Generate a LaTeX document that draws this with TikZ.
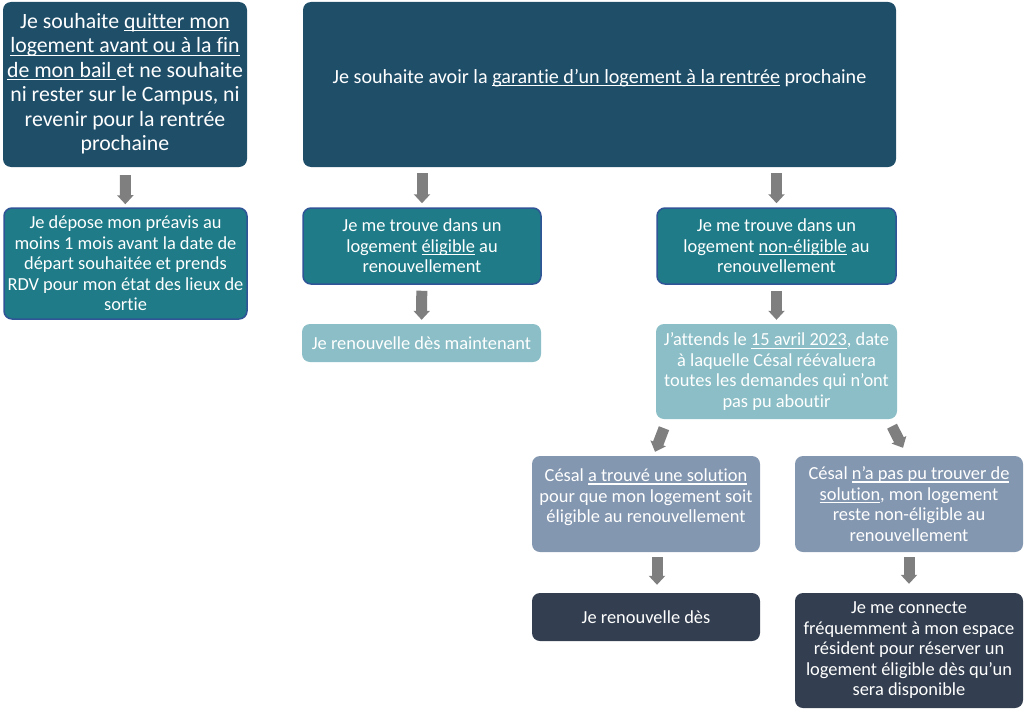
\documentclass[tikz,border=0pt]{standalone}
\usepackage{fontspec}
\setmainfont{Carlito}[Ligatures={NoCommon}]
\newcommand\undl[1]{\setbox0\hbox{#1}\rlap{\rule[-3pt]{\wd0}{1.2pt}}\box0\relax}
\usetikzlibrary{arrows.meta,calc}
\definecolor{darkblue}{HTML}{1F4E69}
\definecolor{tealc}{HTML}{1E7B87}
\definecolor{tealborder}{HTML}{2F5597}
\definecolor{lightteal}{HTML}{8BBEC6}
\definecolor{slate}{HTML}{8497B0}
\definecolor{navy}{HTML}{333F50}
\definecolor{arrowgray}{HTML}{7F7F7F}
\tikzset{
  box/.style={rounded corners=8pt, text=white, align=center, inner sep=2pt,
    font=\fontsize{18.4}{20.5}\selectfont},
  topbox/.style={box, fill=darkblue},
  midbox/.style={box, fill=tealc, draw=tealborder, line width=1.5pt},
  lightbox/.style={box, fill=lightteal},
  slatebox/.style={box, fill=slate},
  navybox/.style={box, fill=navy},
  flow/.style={draw=arrowgray, line width=11pt, -{Triangle[width=16pt,length=9pt]}},
}
\begin{document}
\begin{tikzpicture}[x=1pt,y=-1pt]
\useasboundingbox (0,0) rectangle (1024,709);
\node[topbox, minimum width=244pt, minimum height=165pt, font=\fontsize{21.8}{24.5}\selectfont] (A) at (125,84.5)
 {Je souhaite \undl{quitter mon}\\\undl{logement avant ou à la fin}\\\undl{de mon bail\ }et ne souhaite\\ni rester sur le Campus, ni\\revenir pour la rentrée\\prochaine\\[-19.5pt]\mbox{}};
\node[topbox, minimum width=593pt, minimum height=165pt, font=\fontsize{20.1}{24}\selectfont] (B) at (599.5,84.5)
 {Je souhaite avoir la \undl{garantie d’un logement à la rentrée} prochaine\\[-7pt]\mbox{}};
\node[midbox, minimum width=243pt, minimum height=111pt] (C) at (125.5,263.5)
 {Je dépose mon préavis au\\moins 1 mois avant la date de\\départ souhaitée et prends\\RDV pour mon état des lieux de\\sortie};
\node[midbox, minimum width=238pt, minimum height=76pt] (D) at (422,246)
 {Je me trouve dans un\\logement \undl{éligible} au\\renouvellement};
\node[midbox, minimum width=239pt, minimum height=76pt] (E) at (776.5,246)
 {Je me trouve dans un\\logement \undl{non-éligible} au\\renouvellement};
\node[lightbox, minimum width=239pt, minimum height=38pt] (F) at (421.5,343)
 {Je renouvelle dès maintenant};
\node[lightbox, minimum width=241pt, minimum height=95pt] (G) at (776.5,371.5)
 {J’attends le \undl{15 avril 2023}, date\\à laquelle Césal réévaluera\\toutes les demandes qui n’ont\\pas pu aboutir};
\node[slatebox, minimum width=228pt, minimum height=96pt] (H) at (646,504)
 {Césal \undl{a trouvé une solution}\\pour que mon logement soit\\éligible au renouvellement\\[-4pt]\mbox{}};
\node[slatebox, minimum width=228pt, minimum height=96pt] (I) at (909,504)
 {Césal \undl{n’a pas pu trouver de}\\\undl{solution}, mon logement\\reste non-éligible au\\renouvellement};
\node[navybox, minimum width=228pt, minimum height=48pt] (J) at (646,617)
 {Je renouvelle dès};
\node[navybox, minimum width=228pt, minimum height=115pt] (K) at (909,650.5)
 {Je me connecte\\fréquemment à mon espace\\résident pour réserver un\\logement éligible dès qu’un\\sera disponible};
% arrows
\draw[flow, shorten <=8pt, shorten >=3pt] (A) -- (C);
\draw[flow, shorten <=6pt, shorten >=4pt] (D.north |- B.south) -- (D.north);
\draw[flow, shorten <=6pt, shorten >=4pt] (E.north |- B.south) -- (E.north);
\draw[flow, shorten <=6pt, shorten >=4pt] (D) -- (F);
\draw[flow, shorten <=6pt, shorten >=4pt] (E) -- (G);
\draw[flow] ($(G.south)+(-112.5,9)$) -- ($(H.north)+(9,-4)$);
\draw[flow] ($(G.south)+(115.5,7)$) -- ($(I.north)+(-6,-8)$);
\draw[flow, shorten <=5pt, shorten >=8pt] ($(H.south)+(11,0)$) -- ($(J.north)+(11,0)$);
\draw[flow, shorten <=5pt, shorten >=9pt] (I) -- (K);
\end{tikzpicture}
\end{document}
